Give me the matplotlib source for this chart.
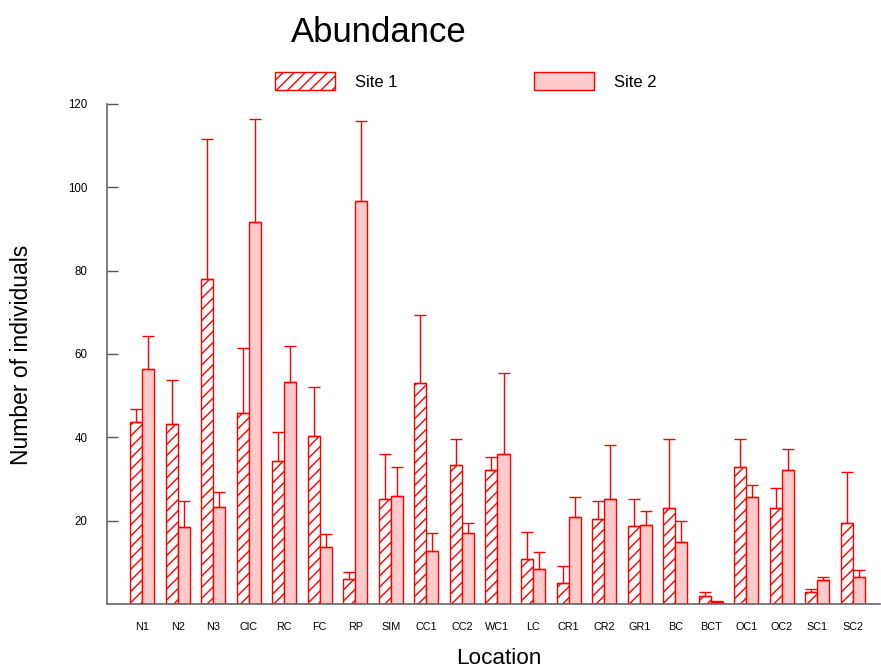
import numpy as np
import matplotlib
matplotlib.use("Agg")
import matplotlib.pyplot as plt
from matplotlib.patches import Patch

plt.rcParams['font.family'] = ['Liberation Sans', 'DejaVu Sans']
plt.rcParams['hatch.linewidth'] = 1.0

locations = ["N1", "N2", "N3", "ClC", "RC", "FC", "RP", "SIM", "CC1", "CC2", "WC1",
             "LC", "CR1", "CR2", "GR1", "BC", "BCT", "OC1", "OC2", "SC1", "SC2"]

# mean abundance per location
site1 = [43.7, 43.1, 78.0, 45.8, 34.3, 40.3, 6.1, 25.2, 53.0, 33.3, 32.1,
         10.7, 5.0, 20.4, 18.7, 23.1, 2.0, 32.8, 23.1, 3.0, 19.4]
site2 = [56.4, 18.4, 23.2, 91.7, 53.3, 13.8, 96.7, 26.0, 12.7, 17.0, 36.1,
         8.3, 20.8, 25.2, 18.9, 15.0, 0.6, 25.7, 32.1, 5.7, 6.4]

# upper error (sd)
err1 = [3.0, 10.7, 33.5, 15.7, 6.9, 11.9, 1.5, 10.9, 16.3, 6.4, 3.1,
        6.7, 4.1, 4.3, 6.6, 16.5, 1.0, 6.9, 4.7, 0.6, 12.3]
err2 = [8.0, 6.3, 3.6, 24.8, 8.6, 3.1, 19.3, 7.0, 4.4, 2.4, 19.4,
        4.3, 4.8, 12.9, 3.5, 4.9, 0.2, 2.8, 5.0, 0.7, 1.8]

pink = "#ffcaca"
w = 0.338
x = np.arange(len(locations))

fig = plt.figure(figsize=(8.81, 6.69), dpi=100)
ax = fig.add_axes([107/881, 65/669, 773/881, 500/669])

ax.bar(x - w/2, site1, w, color="white", edgecolor="red", hatch="///", linewidth=1)
ax.bar(x + w/2, site2, w, color=pink, edgecolor="red", linewidth=1)
z = np.zeros(len(x))
ax.errorbar(x - w/2, site1, yerr=[z, err1], fmt="none", ecolor="red",
            elinewidth=1, capsize=4.3, capthick=1)
ax.errorbar(x + w/2, site2, yerr=[z, err2], fmt="none", ecolor="red",
            elinewidth=1, capsize=4.3, capthick=1)

ax.set_xlim(-0.985, 20.76)
ax.set_ylim(0, 120)
ax.set_yticks([20, 40, 60, 80, 100, 120])
ax.set_xticks(x)
ax.set_xticklabels(locations)
ax.tick_params(axis="y", direction="in", length=8, width=1, color="#555555",
               labelsize=8.3, pad=14)
ax.tick_params(axis="x", length=0, labelsize=7.8, pad=13)
for s in ["top", "right"]:
    ax.spines[s].set_visible(False)
for s in ["left", "bottom"]:
    ax.spines[s].set_color("#666666")
    ax.spines[s].set_linewidth(1.2)

fig.text(379/881, 1 - 33/669, "Abundance", ha="center", va="center", fontsize=25)
fig.text(22/881, 1 - 355/669, "Number of individuals", ha="center", va="center",
         rotation=90, fontsize=16.5)
fig.text(499/881, 1 - 659/669, "Location", ha="center", va="center", fontsize=16.2)

handles = [Patch(facecolor="white", edgecolor="red", hatch="///", label="Site 1"),
           Patch(facecolor=pink, edgecolor="red", label="Site 2")]
fig.legend(handles=handles, loc="center left", bbox_to_anchor=(275/881, 1 - 81/669),
           ncol=2, frameon=False, fontsize=12, borderpad=0, borderaxespad=0,
           handlelength=3.6, handleheight=1.26, handletextpad=1.2, columnspacing=8.2)

fig.savefig("out.png", dpi=100)
